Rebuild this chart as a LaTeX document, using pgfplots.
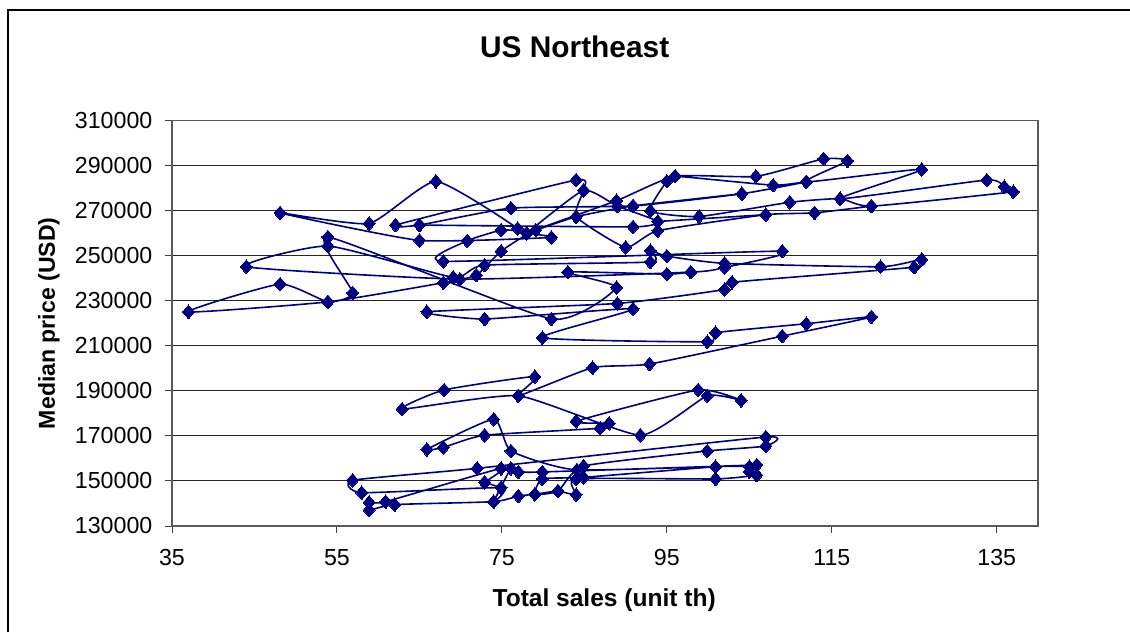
\documentclass[border=0pt]{standalone}
\usepackage{pgfplots}
\pgfplotsset{compat=1.18}
\usepackage{fontspec}
\setmainfont{Liberation Sans}
\definecolor{navy}{HTML}{000080}
\pgfplotsset{ser/.style={color=navy,line width=1.2pt,smooth,tension=0.3,mark=diamond*,mark size=6pt,mark options={fill=navy,draw=navy,line width=0pt,xscale=1.0,yscale=0.85}}}
\begin{document}
\begin{tikzpicture}[x=1pt,y=1pt]
\path[use as bounding box] (-129,-79.5) rectangle (718.5,394.5);
\draw[black,line width=1.4pt] (-123,-79.5) -- (-123,387) -- (718.5,387);
\begin{axis}[
 at={(0,0)},anchor=south west,
 scale only axis,width=649.5pt,height=304.1pt,
 xmin=35,xmax=140,ymin=130000,ymax=310000,
 xtick={35,55,75,95,115,135},
 ytick={130000,150000,170000,190000,210000,230000,250000,270000,290000,310000},
 scaled y ticks=false,
 /pgf/number format/.cd,fixed,precision=0,assume math mode=true,1000 sep={},
 /pgfplots/.cd,
 tick align=outside,tick pos=left,
 tick style={color=black!75,line width=0.7pt},
 major tick length=5.5pt,
 axis line style={color=black!65,line width=1pt},
 ymajorgrids,grid style={color=black!85,line width=0.7pt},
 tick label style={font=\fontsize{17.4}{19}\selectfont},
 yticklabel style={xshift=-5.7pt},
 xticklabel style={yshift=-8.5pt},
 title={US Northeast},
 title style={at={(axis description cs:0.465,1.161)},anchor=center,font=\fontsize{22.4}{25}\selectfont\bfseries},
 xlabel={Total sales (unit th)},
 xlabel style={at={(axis description cs:0.499,-0.184)},anchor=center,font=\fontsize{18.4}{20}\selectfont\bfseries},
 ylabel={Median price (USD)},
 ylabel style={at={(axis description cs:-0.142,0.5)},anchor=center,font=\fontsize{17.3}{19}\selectfont\bfseries},
 clip=false]
% main chain, bottom to middle
\addplot[ser] coordinates {
(72.9,149400)(74.9,155600)(60.9,140800)(58.9,140500)(58.9,137100)(62.0,139500)(74.0,140800)(77.0,143300)(79.0,144100)(81.8,145500)(84.0,143900)(84.0,150900)(100.9,150900)(105.9,152600)(105.0,154100)(105.0,156300)(100.9,156300)(84.9,151600)(79.9,150900)(79.0,144100)(81.8,145500)(84.9,156600)(99.9,163300)(107.0,165500)(107.0,169500)(72.0,155600)(56.9,150300)(58.0,144800)(74.9,147000)(74.0,140800)(76.1,155600)(77.0,154000)(79.9,154000)(105.9,157100)(84.1,154900)(76.1,163300)(74.0,177400)(65.9,164000)(67.9,164900)(72.9,170300)(86.9,173400)(88.0,175600)(84.0,176500)(98.8,190400)(104.0,185800)(99.9,187800)(91.8,170300)(77.0,187800)(62.9,181900)(68.0,190400)(79.0,196300)(77.0,187800)(86.0,200300)(92.9,201900)(109.0,214300)(119.8,222800)(111.9,219800)(100.9,215800)(99.9,211800)(79.9,213600)(90.9,226400)(72.9,221900)(65.9,225100)(89.0,228800)(102.0,235000)(102.9,238200)(125.0,244900)(125.9,248400)(120.9,245100)(102.0,246600)(95.0,249800)(93.0,252200)(93.0,247200)(72.9,245800)(69.1,240400)(53.9,254300)(44.0,245100)(69.9,239600)(97.9,242700)(102.0,244800)(109.0,252000)(67.9,247500)(70.8,256600)(74.9,261400)(76.9,262100)(67.0,283000)(58.9,264300)(48.1,269000)(65.0,256800)(81.0,258100)(78.0,259900)
};
% second chain, middle to top
\addplot[ser] coordinates {
(97.9,242700)(95.0,241800)(83.0,242700)(88.9,235900)(81.0,221900)(53.9,258300)(56.9,233500)(53.9,229500)(48.1,237400)(37.0,225100)(53.9,229500)(67.9,238000)(71.9,241400)(74.9,252000)(79.1,261400)(88.9,274400)(96.0,285300)(105.8,285200)(114.0,293000)(116.9,292100)(111.9,282800)(125.9,288300)(116.0,275300)(133.8,283600)(135.9,280600)(137.0,278400)(119.8,272000)(116.0,275300)(109.9,273700)(98.9,267400)(93.0,269900)(95.0,283100)(96.0,285300)(107.9,281300)(111.9,282800)(104.1,277500)(90.9,272100)(76.1,271100)(65.0,263600)(62.1,263600)(84.0,283600)(84.9,279000)(84.0,267300)(90.0,253700)(93.9,261100)(107.0,268200)(112.9,269000)(119.8,272000)
};
\addplot[ser] coordinates {(65.0,263600)(90.9,262800)(93.9,265200)(89.0,272000)(84.9,279000)(78.0,259900)};
\addplot[ser] coordinates {(72.9,149400)(74.9,147000)};
\addplot[ser] coordinates {(78.0,259900)(84.0,267300)(90.9,272100)(104.1,277500)};
\addplot[ser] coordinates {(93.9,265200)(107.0,268200)};
\end{axis}
\end{tikzpicture}
\end{document}
